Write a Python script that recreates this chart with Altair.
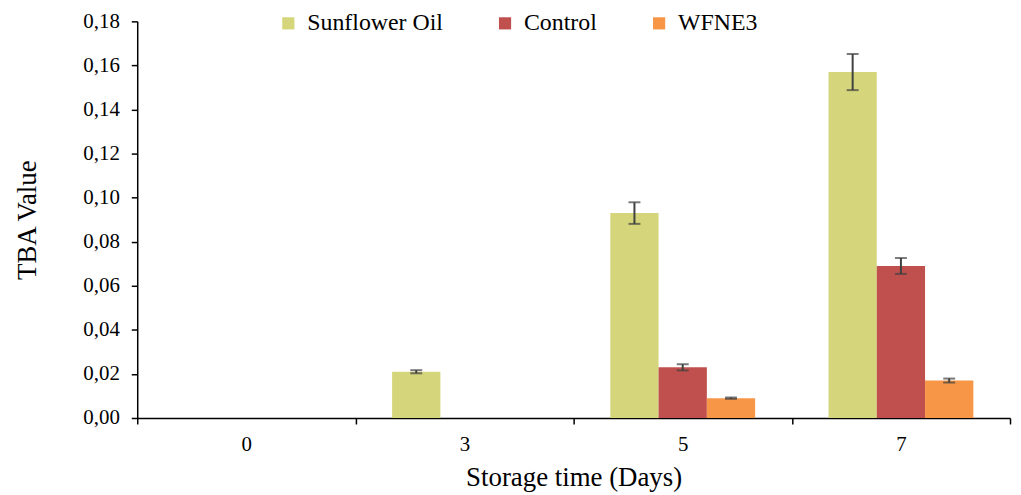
import altair as alt
import pandas as pd

days = ["0", "3", "5", "7"]
series = ["Sunflower Oil", "Control", "WFNE3"]
sunflower = [0.0, 0.021, 0.093, 0.157]
sunflower_err = [0.0, 0.0007, 0.0049, 0.0082]
control = [0.0, 0.0, 0.023, 0.069]
control_err = [0.0, 0.0, 0.0014, 0.0036]
wfne3 = [0.0, 0.0, 0.009, 0.017]
wfne3_err = [0.0, 0.0, 0.0003, 0.0009]
colors = ["#D5D67B", "#C0504D", "#F79646"]

rows = []
for name, vals, errs in zip(series, [sunflower, control, wfne3], [sunflower_err, control_err, wfne3_err]):
    for d, v, e in zip(days, vals, errs):
        rows.append({"Day": d, "Series": name, "Value": v, "Err": e,
                     "Lo": v - e, "Hi": v + e})
df = pd.DataFrame(rows)

FONT = "Liberation Serif"

x_enc = alt.X("Day:N", sort=days, title="Storage time (Days)",
              scale=alt.Scale(paddingInner=0, paddingOuter=0),
              axis=alt.Axis(labelAngle=0, tickBand="extent", tickSize=6,
                            labelPadding=10, titlePadding=10))
xo_enc = alt.XOffset("Series:N", sort=series,
                     scale=alt.Scale(paddingInner=0, paddingOuter=0.76))
color_enc = alt.Color("Series:N", sort=series,
                      scale=alt.Scale(domain=series, range=colors),
                      legend=alt.Legend(orient="none", legendX=140, legendY=-10,
                                        direction="horizontal", title=None,
                                        symbolType="square", symbolSize=150,
                                        symbolStrokeWidth=0,
                                        labelFont=FONT,
                                        labelFontSize=24, labelColor="black",
                                        labelOffset=7, columnPadding=50,
                                        padding=0, labelLimit=300))

bars = alt.Chart(df).mark_bar().encode(
    x=x_enc,
    xOffset=xo_enc,
    y=alt.Y("Value:Q", title="TBA Value",
            scale=alt.Scale(domain=[0, 0.18], nice=False),
            axis=alt.Axis(values=[0, 0.02, 0.04, 0.06, 0.08, 0.10, 0.12, 0.14, 0.16, 0.18],
                          labelExpr="replace(format(datum.value, '.2f'), '.', ',')",
                          grid=False, tickSize=6, labelPadding=12, titlePadding=42)),
    color=color_enc,
)

err_df_filter = "datum.Err > 0"
rules = alt.Chart(df).transform_filter(err_df_filter).mark_rule(
    color="#404040", strokeWidth=2).encode(
    x=alt.X("Day:N", sort=days),
    xOffset=alt.XOffset("Series:N", sort=series),
    y="Lo:Q",
    y2="Hi:Q",
)
caps_lo = alt.Chart(df).transform_filter(err_df_filter).mark_tick(
    color="#404040", thickness=2, size=12).encode(
    x=alt.X("Day:N", sort=days),
    xOffset=alt.XOffset("Series:N", sort=series),
    y="Lo:Q",
)
caps_hi = alt.Chart(df).transform_filter(err_df_filter).mark_tick(
    color="#404040", thickness=2, size=12).encode(
    x=alt.X("Day:N", sort=days),
    xOffset=alt.XOffset("Series:N", sort=series),
    y="Hi:Q",
)

chart = alt.layer(bars, rules, caps_lo, caps_hi).properties(
    width=878, height=399,
    autosize=alt.AutoSizeParams(type="none"),
    padding={"left": 130, "top": 12, "right": 3, "bottom": 75},
).configure(
    background="white", font=FONT,
).configure_view(stroke=None).configure_axis(
    labelFont=FONT, titleFont=FONT, labelFontSize=21, titleFontSize=27,
    labelColor="black", titleColor="black", titleFontWeight="normal",
    domainColor="black", tickColor="black", domainWidth=1.5, tickWidth=1.5,
    grid=False,
).configure_legend(labelFont=FONT)

chart.save("out.html", embed_options={"renderer": "svg", "actions": False})
